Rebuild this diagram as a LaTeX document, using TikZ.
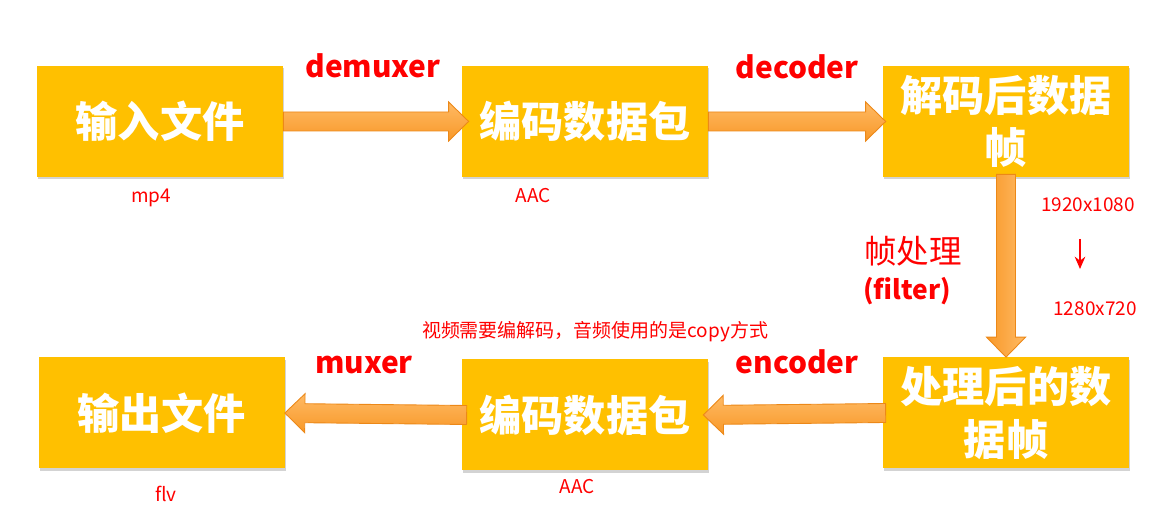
\documentclass[tikz,border=0pt]{standalone}
\usepackage{fontspec}
\setmainfont{Noto Sans CJK SC}
\usepackage{tikz}
\usetikzlibrary{calc, positioning, shadows, arrows.meta}
\usepackage{xcolor}
\definecolor{boxyellow}{RGB}{255,192,0}
\definecolor{arrowlight}{RGB}{255,186,100}
\definecolor{arrowdark}{RGB}{248,152,40}
\definecolor{arrowline}{RGB}{236,136,24}
\definecolor{labelred}{RGB}{255,0,0}

% fat block arrow from #2 to #3
\newcommand{\fatarrow}[3][]{%
  \coordinate (fa-h) at ($(#3)!0.4cm!(#2)$);
  \draw[fatline, #1] ($(#2)!0.19cm!90:(#3)$) -- ($(fa-h)!0.19cm!90:(#3)$)
    -- ($(fa-h)!0.39cm!90:(#3)$) -- (#3) -- ($(fa-h)!0.39cm!-90:(#3)$)
    -- ($(fa-h)!0.19cm!-90:(#3)$) -- ($(#2)!0.19cm!-90:(#3)$) -- cycle;
}

\begin{document}
\begin{tikzpicture}[
    stagebox/.style={rectangle, fill=boxyellow, minimum width=4.92cm, minimum height=2.22cm,
      text=white, font=\fontsize{24}{30}\selectfont\bfseries, align=center, inner sep=0pt,
      drop shadow={shadow xshift=0.6pt, shadow yshift=-1.2pt, opacity=0.35}},
    fatline/.style={draw=arrowline, line width=0.5pt, line join=miter},
    steplabel/.style={text=labelred, font=\fontsize{17}{21}\selectfont\bfseries},
    smalllabel/.style={text=labelred, font=\fontsize{10.8}{13}\selectfont}
  ]
  \useasboundingbox (0,0) rectangle (23.42,10.46);

  % --- boxes ---
  \node[stagebox] (infile) at (3.2,8.03) {输入文件};
  \node[stagebox] (pkt1) at (11.7,8.03) {编码数据包};
  \node[stagebox] (frame) at (20.12,8.03) {解码后数据\\帧};
  \node[stagebox] (pframe) at (20.12,2.2) {处理后的数\\据帧};
  \node[stagebox] (pkt2) at (11.7,2.16) {编码数据包};
  \node[stagebox] (outfile) at (3.23,2.2) {输出文件};

  % --- arrows between boxes ---
  \coordinate (a1) at ([xshift=0.14cm]pkt1.west);
  \coordinate (a2) at ([xshift=0.06cm]frame.west);
  \coordinate (a3s) at ([yshift=0.06cm]frame.south);
  \coordinate (a4s) at ([xshift=0.06cm]pframe.west);
  \coordinate (a4) at ([xshift=-0.1cm]pkt2.east);
  \coordinate (a5s) at ([xshift=0.1cm]pkt2.west);
  \fatarrow[top color=arrowlight, bottom color=arrowdark]{infile.east}{a1}
  \fatarrow[top color=arrowlight, bottom color=arrowdark]{pkt1.east}{a2}
  \fatarrow[left color=arrowdark, right color=arrowlight]{a3s}{pframe.north}
  \fatarrow[top color=arrowlight, bottom color=arrowdark]{a4s}{a4}
  \fatarrow[top color=arrowlight, bottom color=arrowdark]{a5s}{outfile.east}

  % --- step labels ---
  \node[steplabel] (demux) at (7.46,9.14) {demuxer};
  \node[steplabel] (decode) at (15.94,9.12) {decoder};
  \node[steplabel] (encode) at (15.94,3.22) {encoder};
  \node[steplabel] (mux) at (7.28,3.16) {muxer};
  \node[text=labelred, font=\fontsize{18.5}{22}\selectfont] (proc) at (18.26,5.44) {帧处理};
  \node[steplabel, font=\fontsize{15}{18}\selectfont\bfseries] (filter) at (18.14,4.64) {(filter)};

  % --- format notes ---
  \node[smalllabel] (mp4) at (3.02,6.5) {mp4};
  \node[smalllabel] (aac1) at (10.66,6.54) {AAC};
  \node[smalllabel] (aac2) at (11.54,0.72) {AAC};
  \node[smalllabel] (flv) at (3.32,0.58) {flv};
  \node[smalllabel] (note) at (11.9,3.82) {视频需要编解码，音频使用的是copy方式};
  \node[smalllabel] (res1) at (21.76,6.36) {1920x1080};
  \node[smalllabel] (res2) at (21.9,4.28) {1280x720};
  \coordinate (rs) at (21.6,5.68);
  \coordinate (re) at (21.6,5.08);
  \draw[labelred, line width=1pt, -{Stealth[length=7pt, width=6pt]}] (rs) -- (re);
\end{tikzpicture}
\end{document}
